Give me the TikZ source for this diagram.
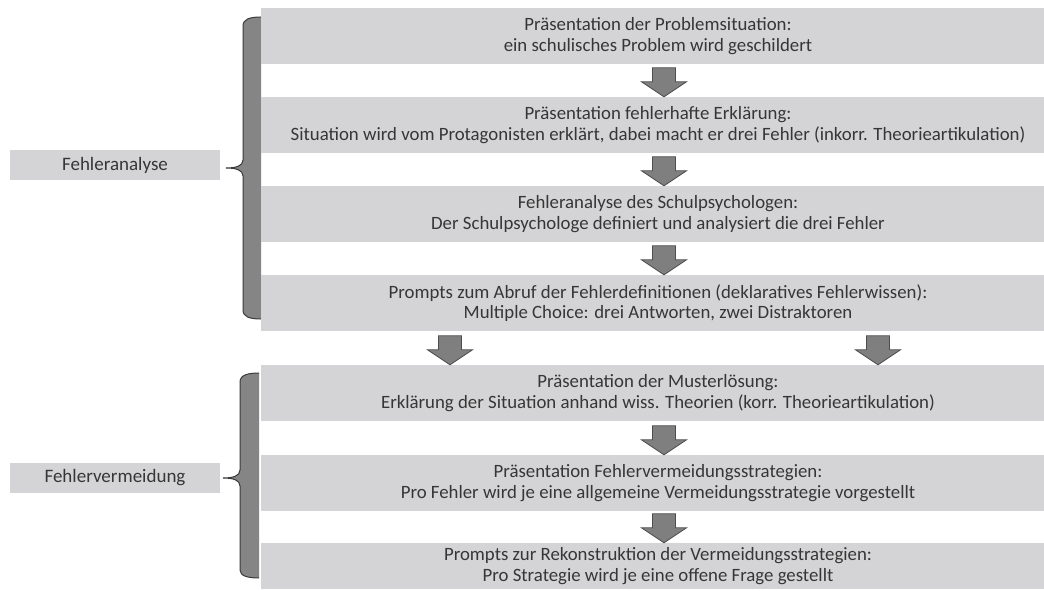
\documentclass[tikz,border=0pt]{standalone}
\usepackage{fontspec}
\setmainfont{Carlito}
\usetikzlibrary{calc}
\definecolor{boxgray}{HTML}{D4D4D6}
\definecolor{arrowgray}{HTML}{7F7F7F}
\definecolor{arrowedge}{HTML}{4D4D4D}
\definecolor{bracegray}{HTML}{858585}
\definecolor{braceedge}{HTML}{3A3A3A}
\definecolor{txt}{HTML}{363636}
\begin{document}
\begin{tikzpicture}[x=1pt,y=-1pt,
  stepbox/.style={fill=boxgray, minimum width=794pt, minimum height=56pt, inner sep=0pt, align=center, font=\fontsize{18.8}{20.5}\selectfont, text=txt},
  labelbox/.style={fill=boxgray, minimum width=210pt, minimum height=30pt, inner sep=0pt, font=\fontsize{19}{21}\selectfont, text=txt},
  bracefill/.style={fill=bracegray, draw=none},
  braceline/.style={draw=braceedge, line width=1pt},
  darrow/.pic={\filldraw[fill=arrowgray, draw=arrowedge, line width=0.8pt, line join=miter]
     (0,0) -- (-22.5,-15) -- (-11.5,-15) -- (-11.5,-29) -- (11.5,-29) -- (11.5,-15) -- (22.5,-15) -- cycle;}]
\useasboundingbox (0,0) rectangle (1044,591);
\fill[white] (0,0) rectangle (1044,591);

% braces
\fill[bracefill] (261,17) .. controls (250,17) and (243,19) .. (243,26) -- (243,160)
  .. controls (243,166) and (236,168) .. (226,168) .. controls (236,168) and (243,170) .. (243,176)
  -- (243,310) .. controls (243,317) and (250,319) .. (261,319) -- cycle;
\draw[braceline] (261,17) .. controls (250,17) and (243,19) .. (243,26) -- (243,160)
  .. controls (243,166) and (236,168) .. (226,168) .. controls (236,168) and (243,170) .. (243,176)
  -- (243,310) .. controls (243,317) and (250,319) .. (261,319);
\fill[bracefill] (259,373) .. controls (248,373) and (240,375) .. (240,382) -- (240,470)
  .. controls (240,476) and (233,478) .. (223,478) .. controls (233,478) and (240,480) .. (240,486)
  -- (240,570) .. controls (240,576) and (248,578) .. (259,578) -- cycle;
\draw[braceline] (259,373) .. controls (248,373) and (240,375) .. (240,382) -- (240,470)
  .. controls (240,476) and (233,478) .. (223,478) .. controls (233,478) and (240,480) .. (240,486)
  -- (240,570) .. controls (240,576) and (248,578) .. (259,578);

% label boxes
\node[labelbox] (la) at (115,165) {Fehleranalyse};
\node[labelbox] (lv) at (115,478) {Fehlervermeidung};

% step boxes
\node[stepbox] (b1) at (658,36) {Präsentation der Problemsituation:\\ein schulisches Problem wird geschildert};
\node[stepbox] (b2) at (658,125) {Präsentation fehlerhafte Erklärung:\\Situation wird vom Protagonisten erklärt, dabei macht er drei Fehler (inkorr. Theorieartikulation)};
\node[stepbox] (b3) at (658,214) {Fehleranalyse des Schulpsychologen:\\Der Schulpsychologe definiert und analysiert die drei Fehler};
\node[stepbox] (b4) at (658,303) {Prompts zum Abruf der Fehlerdefinitionen (deklaratives Fehlerwissen):\\Multiple Choice: drei Antworten, zwei Distraktoren};
\node[stepbox] (b5) at (658,393) {Präsentation der Musterlösung:\\Erklärung der Situation anhand wiss. Theorien (korr. Theorieartikulation)};
\node[stepbox] (b6) at (658,483) {Präsentation Fehlervermeidungsstrategien:\\Pro Fehler wird je eine allgemeine Vermeidungsstrategie vorgestellt};
\node[stepbox, minimum height=46pt] (b7) at (658,566) {Prompts zur Rekonstruktion der Vermeidungsstrategien:\\Pro Strategie wird je eine offene Frage gestellt};

% block arrows
\pic at ([xshift=6pt]b2.north) {darrow};
\pic at ([xshift=6pt]b3.north) {darrow};
\pic at ([xshift=6pt]b4.north) {darrow};
\pic at ([xshift=-208pt]b5.north) {darrow};
\pic at ([xshift=220pt]b5.north) {darrow};
\pic at ([xshift=6pt]b6.north) {darrow};
\pic at ([xshift=6pt]b7.north) {darrow};
\end{tikzpicture}
\end{document}
